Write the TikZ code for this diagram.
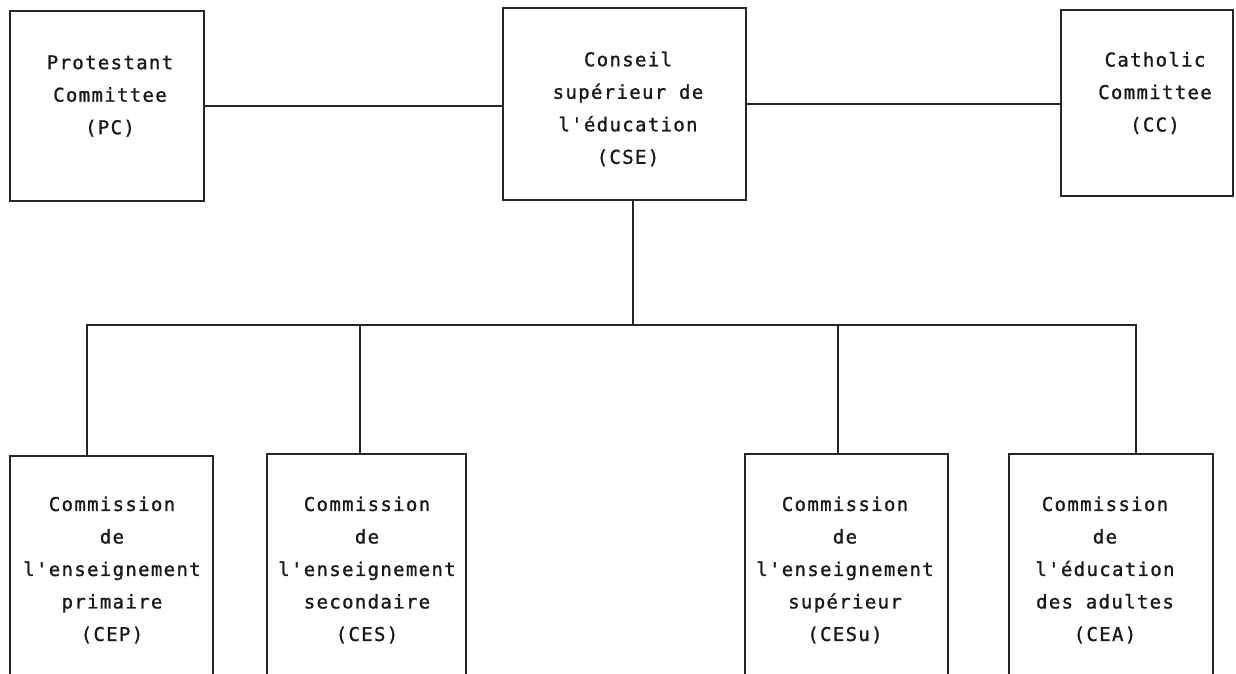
\documentclass[tikz,border=0pt]{standalone}
\usepackage{fontspec}
\newfontfamily\tw{DejaVu Sans Mono}[LetterSpace=7,FakeBold=1.2]
\begin{document}
\begin{tikzpicture}[x=1pt,y=-1pt,
  box/.style={draw=black!85, line width=1.7pt, inner sep=0pt, outer sep=0pt},
  lbl/.style={align=center, inner sep=0pt, font=\tw\fontsize{19}{32.5}\selectfont, text=black!90},
  conn/.style={draw=black!85, line width=1.7pt}]
\useasboundingbox (0,0) rectangle (1236,673);
\clip (0,0) rectangle (1236,673);
% top boxes
\node[box, minimum width=194pt, minimum height=190pt] (PC) at (107,106) {};
\node[box, minimum width=243pt, minimum height=192pt] (CSE) at (624.5,104) {};
\node[box, minimum width=172pt, minimum height=186pt] (CC) at (1147,103) {};
% bottom boxes (run below the page edge)
\node[box, minimum width=203pt, minimum height=264pt] (CEP) at (111.5,588) {};
\node[box, minimum width=199pt, minimum height=264pt] (CES) at (366.5,586) {};
\node[box, minimum width=203pt, minimum height=264pt] (CESu) at (846.5,586) {};
\node[box, minimum width=204pt, minimum height=264pt] (CEA) at (1111,586) {};
% labels
\node[lbl] (tPC) at (110,96) {Protestant\\Committee\\(PC)};
\node[lbl] (tCSE) at (628,109) {Conseil\\supérieur de\\l'éducation\\(CSE)};
\node[lbl] (tCC) at (1155,93) {Catholic\\Committee\\(CC)};
\node[lbl] (tCEP) at (112,570) {Commission\\de\\l'enseignement\\primaire\\(CEP)};
\node[lbl] (tCES) at (367,570) {Commission\\de\\l'enseignement\\secondaire\\(CES)};
\node[lbl] (tCESu) at (845,570) {Commission\\de\\l'enseignement\\supérieur\\(CESu)};
\node[lbl] (tCEA) at (1105,570) {Commission\\de\\l'éducation\\des adultes\\(CEA)};
% connectors
\draw[conn] (PC.east) -- (PC.east -| CSE.west);
\draw[conn] (CSE.east) -- (CSE.east -| CC.west);
\coordinate (bus) at (633,325);
\coordinate (b1) at (87,325);
\coordinate (b2) at (360,325);
\coordinate (b3) at (838,325);
\coordinate (b4) at (1136,325);
\draw[conn] (bus |- CSE.south) -- (bus);
\draw[conn] (b1 |- CEP.north) -- (b1) -- (b4) -- (b4 |- CEA.north);
\draw[conn] (b2) -- (b2 |- CES.north);
\draw[conn] (b3) -- (b3 |- CESu.north);
\end{tikzpicture}
\end{document}
